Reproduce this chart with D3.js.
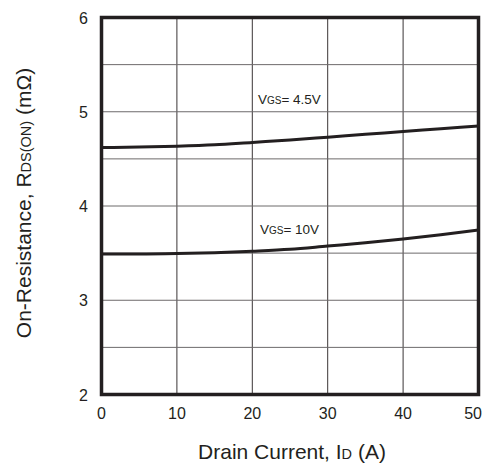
<!DOCTYPE html>
<html><head><meta charset="utf-8">
<script src="https://cdn.jsdelivr.net/npm/d3@7"></script>
<style>body{margin:0;background:#fff}svg{display:block}text{font-family:Arial,"Liberation Sans",sans-serif;fill:#231f20}</style>
</head><body>
<script>
const xTicks=[0,10,20,30,40,50];
const yTicks=[2,3,4,5,6];
const yGrid=[2.5,3,3.5,4,4.5,5,5.5];
const current=[0,5,10,15,20,25,30,35,40,45,50];
const r45=[4.62,4.625,4.635,4.65,4.675,4.70,4.73,4.76,4.79,4.82,4.85];
const r10=[3.49,3.49,3.495,3.505,3.52,3.54,3.575,3.61,3.65,3.695,3.745];
const W=483,H=465;
const svg=d3.select("body").append("svg").attr("width",W).attr("height",H);
const x=d3.scaleLinear().domain([0,50]).range([101.5,478.5]);
const y=d3.scaleLinear().domain([2,6]).range([394.5,17.5]);
const g=svg.append("g");
g.selectAll(".vg").data(xTicks.slice(1,-1)).join("line").attr("x1",d=>x(d)).attr("x2",d=>x(d)).attr("y1",y(6)).attr("y2",y(2)).attr("stroke","#3a3536").attr("stroke-width",1);
g.selectAll(".hg").data(yGrid).join("line").attr("y1",d=>y(d)).attr("y2",d=>y(d)).attr("x1",x(0)).attr("x2",x(50)).attr("stroke","#6d6a6b").attr("stroke-width",1);
const line=d3.line().x((d,i)=>x(current[i])).y(d=>y(d)).curve(d3.curveMonotoneX);
[r45,r10].forEach(s=>g.append("path").attr("d",line(s)).attr("fill","none").attr("stroke","#231f20").attr("stroke-width",3));
g.append("rect").attr("x",x(0)).attr("y",y(6)).attr("width",x(50)-x(0)).attr("height",y(2)-y(6)).attr("fill","none").attr("stroke","#231f20").attr("stroke-width",3.5);
// tick labels
svg.selectAll(".yt").data(yTicks).join("text").attr("x",88).attr("y",d=>y(d)+6).attr("text-anchor","end").attr("font-size",16).text(d=>d);
svg.selectAll(".xt").data(xTicks).join("text").attr("x",d=>d===50?482:x(d)).attr("y",419).attr("text-anchor",d=>d===50?"end":"middle").attr("font-size",16).text(d=>d);
// series labels
function vgs(xp,yp,val){const t=svg.append("text").attr("x",xp).attr("y",yp).attr("font-size",13.5);
 t.append("tspan").text("V");t.append("tspan").attr("font-size",10).text("GS");t.append("tspan").text("= "+val);}
vgs(258,104,"4.5V");
vgs(260,234,"10V");
// axis titles
const xt=svg.append("text").attr("x",292).attr("y",459).attr("text-anchor","middle").attr("font-size",21);
xt.append("tspan").text("Drain Current, I");xt.append("tspan").attr("font-size",14.5).text("D");xt.append("tspan").text(" (A)");
const yt=svg.append("text").attr("transform","translate(31,203) rotate(-90)").attr("text-anchor","middle").attr("font-size",21);
yt.append("tspan").text("On-Resistance, R");yt.append("tspan").attr("font-size",14.5).text("DS(ON)");yt.append("tspan").text(" (m\u03A9)");
</script>
</body></html>
